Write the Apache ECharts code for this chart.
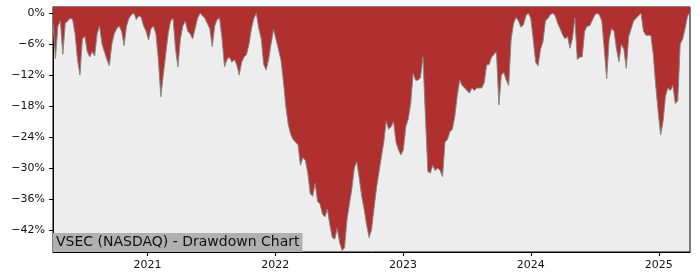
<!DOCTYPE html>
<html>
<head>
<meta charset="utf-8">
<script src="https://cdn.jsdelivr.net/npm/echarts@6/dist/echarts.min.js"></script>
<style>html,body{margin:0;padding:0;background:#fff}#c{width:700px;height:280px}</style>
</head>
<body>
<div id="c"></div>
<script>
// weekly samples starting at START_DATE
const START_DATE = '2020-04-06';
const STEP_DAYS = 7;
const drawdown = [
-2,-8.8,-2.5,-1.5,-8,-2,-1.5,-1,-1.2,-4,-9,-12,-5,-4.5,-7.5,-8.5,-7.5,-8.3,-4,-2.5,
-6,-7.5,-9,-10.2,-6,-4,-3,-2.5,-3.5,-6.3,-2.5,-1,-0.3,0,-1.2,-0.5,-0.8,-2.5,-3.5,-5.2,
-3,-2.5,-4,-9,-16.2,-12,-8,-4,-1.5,-1,-7,-10.4,-5,-2.5,-1.5,-3.5,-4,-5,-3,-1,
0,-0.5,-1,-2,-3,-6.5,-2.5,-1.2,-1,-5,-10.4,-9,-8.5,-9.5,-9,-10,-12,-9.5,-8.5,-8,
-6,-3,-1,0,-3,-5,-10,-11,-9,-6,-3.2,-5,-7,-9,-13,-18,-21.5,-23.5,-24.5,-25,
-25.5,-29.5,-28,-28.5,-31,-35,-35.5,-33,-36.5,-37,-39,-39.5,-38,-41,-43.5,-43.8,-41.7,-44.5,-46,-45.5,
-40,-37,-34,-30,-28.8,-32,-35.5,-38,-41,-43.5,-42,-38,-34,-31,-28,-25,-21,-22.5,-22,-21,
-25,-26.5,-27.5,-26.5,-22,-20.5,-17.5,-11.7,-13,-13,-12.5,-8.5,-20,-30.7,-31,-29.5,-30.5,-30,-30.5,-31.7,
-25,-24.5,-23,-22.5,-20,-16,-13,-14,-14.5,-15,-15.5,-14.5,-15,-14.5,-14.5,-14.5,-13.5,-10,-10,-8.5,
-8,-7.5,-17.8,-12,-11.5,-13,-14,-5,-2,-0.8,-1.5,-2.7,-2.3,-0.5,0,-1,-5,-9.5,-10.2,-7,
-5.5,-1.5,-1,-0.3,0,-0.5,-2,-3,-4.2,-5,-4.5,-6.8,-5,-1,-9,-8.5,-8.5,-3.5,-2.5,-2.5,
-1.5,-0.5,0,-0.3,-1.5,-7,-12.7,-5,-3,-3.5,-7,-9.4,-6,-7,-10.7,-4.5,-3,-1.5,-1,-0.5,
0,-3.5,-4.3,-4.3,-4.3,-8,-14,-19,-23.6,-21,-16,-14.5,-15,-14,-17.5,-17,-6,-5,-3,-0.5,
0
];
const yearTicks = [2021, 2022, 2023, 2024, 2025];
const yTicks = [0, -6, -12, -18, -24, -30, -36, -42];
const titleText = 'VSEC (NASDAQ) - Drawdown Chart';

const DAY = 86400000;
const p = START_DATE.split('-').map(Number);
const t0 = Date.UTC(p[0], p[1]-1, p[2]);
const seriesData = drawdown.map((v, i) => [t0 + i*STEP_DAYS*DAY, v]);
const xTickVals = yearTicks.map(y => Date.UTC(y, 0, 1));
const FONT = 'DejaVu Sans';

const chart = echarts.init(document.getElementById('c'), null, {renderer: 'canvas'});
chart.setOption({
  animation: false,
  backgroundColor: '#ffffff',
  title: {
    text: titleText,
    left: 53, bottom: 28,
    padding: [2, 3, 2, 3],
    backgroundColor: '#b0b0b0',
    textStyle: {fontFamily: FONT, fontSize: 14, fontWeight: 'normal', color: '#111', lineHeight: 15},
    z: 10
  },
  grid: {
    left: 53, right: 10, top: 7, bottom: 28,
    show: true, backgroundColor: '#ededed', borderColor: '#000', borderWidth: 1
  },
  xAxis: {
    type: 'value',
    min: t0, max: t0 + (drawdown.length-1)*STEP_DAYS*DAY,
    splitLine: {show: false},
    axisLine: {show: true, onZero: false, lineStyle: {color: '#000', width: 1}},
    axisTick: {show: true, customValues: xTickVals, length: 4, lineStyle: {color: '#000'}},
    axisLabel: {
      customValues: xTickVals, margin: 8,
      fontFamily: FONT, fontSize: 11, color: '#111',
      formatter: v => String(new Date(v).getUTCFullYear())
    }
  },
  yAxis: {
    type: 'value',
    min: -46.3, max: 1.2,
    splitLine: {show: false},
    axisLine: {show: true, onZero: false, lineStyle: {color: '#000', width: 1}},
    axisTick: {show: true, customValues: yTicks, length: 4, lineStyle: {color: '#000'}},
    axisLabel: {
      customValues: yTicks, margin: 8,
      fontFamily: FONT, fontSize: 11, color: '#111',
      formatter: v => (v < 0 ? '\u2212' : '') + Math.abs(v) + '%'
    }
  },
  series: [{
    type: 'line',
    data: seriesData,
    showSymbol: false,
    symbol: 'none',
    lineStyle: {color: '#888888', width: 1},
    areaStyle: {color: '#b03030', opacity: 1, origin: 'end'},
    z: 2
  }]
});
</script>
</body>
</html>
